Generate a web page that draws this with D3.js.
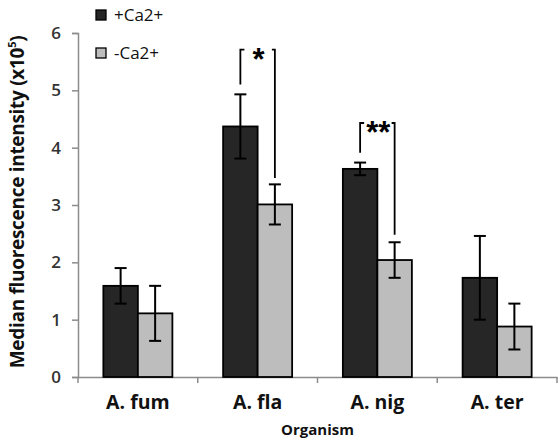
<!DOCTYPE html>
<html>
<head>
<meta charset="utf-8">
<script src="https://cdn.jsdelivr.net/npm/d3@7"></script>
<style>
  body { margin: 0; background: #fff; }
  text { font-family: 'Open Sans', Lato, sans-serif; }
</style>
</head>
<body>
<svg id="chart"></svg>
<script>
// data
const categories = ['A. fum', 'A. fla', 'A. nig', 'A. ter']
const series = ['+Ca2+', '-Ca2+']
const plusCa = [1.59, 4.37, 3.63, 1.73]
const plusErr = [0.31, 0.56, 0.11, 0.73]
const minusCa = [1.11, 3.01, 2.04, 0.88]
const minusErr = [0.48, 0.35, 0.31, 0.40]
const yTicks = [0, 1, 2, 3, 4, 5, 6]
// significance brackets (y in data units)
const sigCats = ['A. fla', 'A. nig']
const sigLabels = ['*', '**']
const sigTop = [5.71, 4.43]
const sigLeftFrom = [5.10, 3.91]
const sigRightFrom = [3.47, 2.48]

const colors = { '+Ca2+': '#262626', '-Ca2+': '#bdbdbd' }

const W = 559, H = 442
const margin = { top: 33, left: 78, right: 2, bottom: 65 }
const width = W - margin.left - margin.right
const height = H - margin.top - margin.bottom

const svgRoot = d3.select('#chart').attr('width', W).attr('height', H)
const svg = svgRoot.append('g')
  .attr('transform', 'translate(' + margin.left + ',' + margin.top + ')')

/// scales ////
const x0 = d3.scaleBand().domain(categories).range([0, width]).padding(0)
const x1 = d3.scaleBand().domain(series).range([0, x0.bandwidth()])
  .paddingInner(0).paddingOuter(0.735)
const y = d3.scaleLinear().domain([0, 6]).range([height, 0])

const rows = categories.map((c, i) => ({
  cat: c,
  vals: [
    { s: '+Ca2+', v: plusCa[i], e: plusErr[i] },
    { s: '-Ca2+', v: minusCa[i], e: minusErr[i] }
  ]
}))

/// axes ////
const yAxis = svg.append('g')
  .call(d3.axisLeft(y).tickValues(yTicks).tickSize(6).tickPadding(11).tickFormat(d3.format('d')))
yAxis.selectAll('line, path').attr('stroke', '#8c8c8c').attr('stroke-width', 1.5)
yAxis.selectAll('text').attr('font-size', 17).attr('fill', '#333').attr('font-weight', 600)
  .style('font-family', "'Open Sans', sans-serif")

const xAxis = svg.append('g').attr('transform', 'translate(0,' + height + ')')
  .call(d3.axisBottom(x0).tickSize(0).tickFormat(''))
xAxis.select('.domain').attr('stroke', '#8c8c8c').attr('stroke-width', 1.5)
xAxis.selectAll('.tick').remove()
// category boundary ticks
const bounds = categories.map(c => x0(c)).concat([width])
svg.append('g').selectAll('line').data(bounds).enter().append('line')
  .attr('x1', d => d).attr('x2', d => d)
  .attr('y1', height).attr('y2', height + 6)
  .attr('stroke', '#8c8c8c').attr('stroke-width', 1.5)

svg.append('g').selectAll('text').data(categories).enter().append('text')
  .attr('x', d => x0(d) + x0.bandwidth() / 2)
  .attr('y', height + 32)
  .attr('text-anchor', 'middle')
  .attr('font-size', 19.5).attr('font-weight', 'bold').attr('fill', '#111')
  .text(d => d)

svg.append('text')
  .attr('x', width / 2).attr('y', height + 58)
  .attr('text-anchor', 'middle')
  .attr('font-size', 15).attr('font-weight', 'bold').attr('fill', '#111')
  .text('Organism')

const yl = svg.append('text')
  .attr('transform', 'translate(' + (-54) + ',' + (202 - margin.top) + ') rotate(-90)')
  .attr('text-anchor', 'middle')
  .attr('font-size', 19).attr('font-weight', 'bold').attr('fill', '#111')
  .attr('letter-spacing', -0.3)
yl.append('tspan').text('Median fluorescence intensity (x10')
yl.append('tspan').attr('font-size', 11).attr('dy', -8).text('5')
yl.append('tspan').attr('dy', 8).text(')')

/// bars ////
const groups = svg.selectAll('.grp').data(rows).enter().append('g')
  .attr('class', 'grp')
  .attr('transform', d => 'translate(' + x0(d.cat) + ',0)')

groups.selectAll('rect').data(d => d.vals).enter().append('rect')
  .attr('x', d => x1(d.s))
  .attr('y', d => y(d.v))
  .attr('width', x1.bandwidth())
  .attr('height', d => y(0) - y(d.v))
  .attr('fill', d => colors[d.s])
  .attr('stroke', '#000').attr('stroke-width', 1.8)

// error bars
const eb = groups.selectAll('.err').data(d => d.vals).enter().append('g').attr('class', 'err')
  .attr('stroke', '#000').attr('stroke-width', 2)
const cx = d => x1(d.s) + x1.bandwidth() / 2
eb.append('line').attr('x1', cx).attr('x2', cx)
  .attr('y1', d => y(d.v + d.e)).attr('y2', d => y(d.v - d.e))
eb.append('line').attr('x1', d => cx(d) - 6).attr('x2', d => cx(d) + 6)
  .attr('y1', d => y(d.v + d.e)).attr('y2', d => y(d.v + d.e))
eb.append('line').attr('x1', d => cx(d) - 6).attr('x2', d => cx(d) + 6)
  .attr('y1', d => y(d.v - d.e)).attr('y2', d => y(d.v - d.e))

/// significance brackets ////
sigCats.forEach((c, i) => {
  const xl = x0(c) + x1('+Ca2+') + x1.bandwidth() / 2
  const xr = x0(c) + x1('-Ca2+') + x1.bandwidth() / 2
  const yt = y(sigTop[i])
  const g = svg.append('g').attr('stroke', '#000').attr('stroke-width', 1.8).attr('fill', 'none')
  g.append('path').attr('d', d3.line()([[xl, y(sigLeftFrom[i])], [xl, yt], [xl + 4, yt]]))
  g.append('path').attr('d', d3.line()([[xr - 3, yt], [xr, yt], [xr, y(sigRightFrom[i])]]))
  svg.append('text')
    .attr('x', (xl + xr) / 2 + 1).attr('y', yt + 20)
    .attr('text-anchor', 'middle')
    .attr('font-size', 31).attr('font-weight', 'bold').attr('fill', '#000')
    .attr('letter-spacing', 0)
    .style('font-family', 'Arial, "Liberation Sans", sans-serif')
    .text(sigLabels[i])
})

/// legend ////
const legend = svgRoot.append('g')
series.forEach((s, i) => {
  const ly = 10 + i * 38
  legend.append('rect').attr('x', 96).attr('y', ly).attr('width', 10).attr('height', 10)
    .attr('fill', colors[s]).attr('stroke', '#000').attr('stroke-width', 1.3)
  legend.append('text').attr('x', 114).attr('y', ly + 11)
    .attr('font-size', 17).attr('fill', '#111')
    .text(s)
})
</script>
</body>
</html>
